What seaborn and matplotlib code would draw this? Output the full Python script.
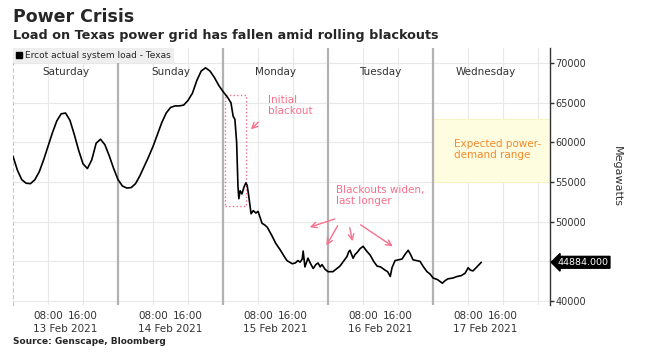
import seaborn as sns
import matplotlib.pyplot as plt
import matplotlib.dates as mdates
import matplotlib.transforms as mtrans
from matplotlib.patches import Patch, Rectangle
import pandas as pd

# Datos: horas desde el sábado 13 feb 00:00 y carga del sistema (MW)
hours = [0, 1, 2, 3, 4, 5, 6, 7, 8, 9,
         10, 11, 12, 13, 14, 15, 16, 17, 18, 19,
         20, 21, 22, 23, 24, 25, 26, 27, 28, 29,
         30, 31, 32, 33, 34, 35, 36, 37, 38, 39,
         40, 41, 42, 43, 44, 45, 46, 47, 48, 49,
         49.8, 50.3, 50.7, 51.1, 51.4, 51.6, 51.9, 52.3, 52.8, 53.2,
         53.5, 53.8, 54.4, 54.9, 55.5, 56.0, 56.9, 57.5, 58.1, 59.2,
         60.0, 61.0, 62.0, 62.6, 63.8, 64.5, 65.1, 65.6, 66.1, 66.3,
         66.7, 67.4, 68.0, 68.6, 69.2, 69.7, 70.2, 70.6, 71.3, 72.0,
         73.1, 74.0, 74.7, 75.5, 76.3, 76.7, 77.0, 77.7, 78.2, 78.6,
         79.3, 80.0, 80.8, 81.6, 82.4, 83.2, 84.0, 85.0, 85.6, 86.2,
         86.6, 87.3, 88.1, 88.9, 89.6, 90.3, 90.9, 91.4, 92.2, 93.0,
         93.8, 94.6, 95.3, 96.0, 97.0, 98.1, 98.8, 99.4, 100.5, 101.5,
         102.4, 103.3, 104.0, 104.5, 105.1, 106.0, 107.0]
load_mw = [58250, 56500, 55300, 54850, 54800, 55300, 56300, 57800, 59500, 61200,
           62700, 63600, 63700, 62800, 61000, 59000, 57300, 56700, 57800, 59900,
           60400, 59700, 58300, 56700, 55300, 54500, 54250, 54300, 54800, 55800,
           57000, 58200, 59500, 61000, 62500, 63700, 64400, 64600, 64600, 64700,
           65300, 66200, 67800, 69000, 69400, 69000, 68200, 67200, 66400, 65700,
           65000, 63300, 62900, 60000, 54500, 52900, 53900, 53500, 54400, 54900,
           54600, 53500, 51000, 51400, 51100, 51300, 49800, 49600, 49300, 48200,
           47300, 46500, 45600, 45100, 44700, 44800, 45100, 44900, 45300, 46300,
           44300, 45400, 44700, 44100, 44600, 44800, 44300, 44600, 44000, 43700,
           43700, 44100, 44400, 45000, 45600, 46200, 46400, 45400, 45900, 46100,
           46600, 46900, 46300, 45800, 45000, 44400, 44300, 43900, 43700, 43100,
           44200, 45100, 45200, 45300, 45900, 46400, 45800, 45200, 45100, 45000,
           44300, 43700, 43400, 42900, 42700, 42250, 42600, 42800, 42900, 43100,
           43200, 43500, 44200, 43900, 43800, 44300, 44884]

day_names = ['Saturday', 'Sunday', 'Monday', 'Tuesday', 'Wednesday']
date_labels = ['13 Feb 2021', '14 Feb 2021', '15 Feb 2021', '16 Feb 2021', '17 Feb 2021']
y_ticks = [40000, 45000, 50000, 55000, 60000, 65000, 70000]
demand_range = [55000, 63000]

start = pd.Timestamp('2021-02-13')
df = pd.DataFrame({'time': start + pd.to_timedelta(hours, unit='h'), 'load': load_mw})


def hx(h):
    # horas -> coordenada de fecha de matplotlib
    return mdates.date2num(start + pd.Timedelta(hours=h))


sns.set_style('white')
plt.rcParams['font.family'] = ['DejaVu Sans']

pink = '#f7708c'
orange = '#f3892a'
grid_c = '#e8e8e8'
txt_c = '#333333'

fig = plt.figure(figsize=(6.47, 3.55), dpi=100)
ax = fig.add_axes([13 / 647, 50 / 355, 537 / 647, 257 / 355])

# rejilla y lineas de cada dia
for y in y_ticks:
    ax.axhline(y, color=grid_c, lw=0.8, zorder=0)
for d in range(5):
    for h in (8, 16):
        ax.axvline(hx(24 * d + h), color=grid_c, lw=0.8, zorder=0)
ax.axvline(hx(120), color=grid_c, lw=0.8, zorder=0)
for d in range(1, 5):
    ax.axvline(hx(24 * d), color='#b2b2b2', lw=1.6, zorder=1)

# rango esperado de demanda
ax.fill_between([hx(96), hx(122.7)], demand_range[0], demand_range[1],
                color='#fefde0', edgecolor='#f6f3c4', lw=0.8, zorder=0.5)

sns.lineplot(data=df, x='time', y='load', color='black', lw=1.2, ax=ax, legend=False, zorder=3)

ax.set_xlim(hx(0), hx(122.7))
ax.set_ylim(39500, 71900)
ax.set_xlabel('')

# eje x: horas arriba, fecha abajo
ax.set_xticks([hx(24 * d + h) for d in range(5) for h in (8, 16)])
ax.set_xticklabels(['08:00', '16:00'] * 5)
ax.set_xticks([hx(24 * d + 12) for d in range(5)], minor=True)
ax.set_xticklabels(date_labels, minor=True)
ax.tick_params(axis='x', which='major', length=0, labelsize=7.5, labelcolor=txt_c, pad=4)
ax.tick_params(axis='x', which='minor', length=0, labelsize=7.5, labelcolor=txt_c, pad=13.5)

# eje y a la derecha (la etiqueta de 45000 queda tapada por el ultimo valor)
ax.yaxis.tick_right()
ax.set_yticks(y_ticks)
ax.set_yticklabels(['' if v == 45000 else str(v) for v in y_ticks])
ax.tick_params(axis='y', length=3, width=1, color=txt_c, labelsize=7, labelcolor=txt_c, pad=1)
ax.yaxis.set_label_position('right')
ax.set_ylabel('Megawatts', rotation=270, fontsize=8, color=txt_c, va='center')
ax.yaxis.set_label_coords((617 - 13) / 537, 0.5)

for side in ['top', 'bottom']:
    ax.spines[side].set_visible(False)
ax.spines['left'].set_color('#c8c8c8')
ax.spines['left'].set_linestyle((0, (3, 3)))
ax.spines['left'].set_linewidth(0.8)
ax.spines['right'].set_color(txt_c)
ax.spines['right'].set_linewidth(1)

# nombres de los dias
tr = mtrans.blended_transform_factory(ax.transData, ax.transAxes)
for d, name in enumerate(day_names):
    ax.text(hx(24 * d + 12), 0.905, name, transform=tr, ha='center', va='center',
            fontsize=7.5, color=txt_c)

# ultimo valor
tr_y = mtrans.blended_transform_factory(ax.transAxes, ax.transData)
ax.text(1.014, load_mw[-1], f'{load_mw[-1]:.3f}', transform=tr_y, ha='left', va='center',
        fontsize=6.8, color='white',
        bbox=dict(boxstyle='larrow,pad=0.15', fc='black', ec='black'))

# leyenda
ax.legend(handles=[Patch(color='black', label='Ercot actual system load - Texas')],
          loc='upper left', bbox_to_anchor=(0, 1), frameon=True, facecolor='#eeeeee',
          edgecolor='none', fancybox=False, framealpha=1, fontsize=6.5,
          handlelength=0.7, handleheight=0.7, handletextpad=0.3, borderpad=0.35,
          borderaxespad=0)

# anotaciones
ax.add_patch(Rectangle((hx(48.5), 52000), hx(53.3) - hx(48.5), 14000, fill=False,
                       ec=pink, ls=':', lw=1, zorder=2))
ax.text(hx(58.3), 66000, 'Initial\nblackout', color=pink, fontsize=7.5, va='top', ha='left',
        linespacing=1.1)
arrow = dict(arrowstyle='->,head_length=0.4,head_width=0.2', color=pink, lw=1)
ax.annotate('', xy=(hx(53.9), 61400), xytext=(hx(56.5), 62800), arrowprops=arrow)

ax.text(hx(73.8), 54600, 'Blackouts widen,\nlast longer', color=pink, fontsize=7.5,
        va='top', ha='left', linespacing=1.1)
for (x0, y0), (x1, y1) in [((74.1, 50450), (67.2, 49200)),
                           ((74.5, 49800), (71.3, 46700)),
                           ((76.8, 49600), (77.7, 47200)),
                           ((78.9, 49800), (87.3, 46700))]:
    ax.annotate('', xy=(hx(x1), y1), xytext=(hx(x0), y0), arrowprops=arrow)

ax.text(hx(100.8), 60400, 'Expected power-\ndemand range', color=orange, fontsize=7.5,
        va='top', ha='left', linespacing=1.1)

# titulos y fuente
fig.text(13 / 647, 1 - 17 / 355, 'Power Crisis', fontsize=12.5, weight='bold', va='center')
fig.text(13 / 647, 1 - 35 / 355, 'Load on Texas power grid has fallen amid rolling blackouts',
         fontsize=9.2, weight='bold', va='center')
fig.text(13 / 647, 1 - 342 / 355, 'Source: Genscape, Bloomberg', fontsize=6.5, weight='bold',
         va='center')

fig.savefig('out.png', dpi=100)
